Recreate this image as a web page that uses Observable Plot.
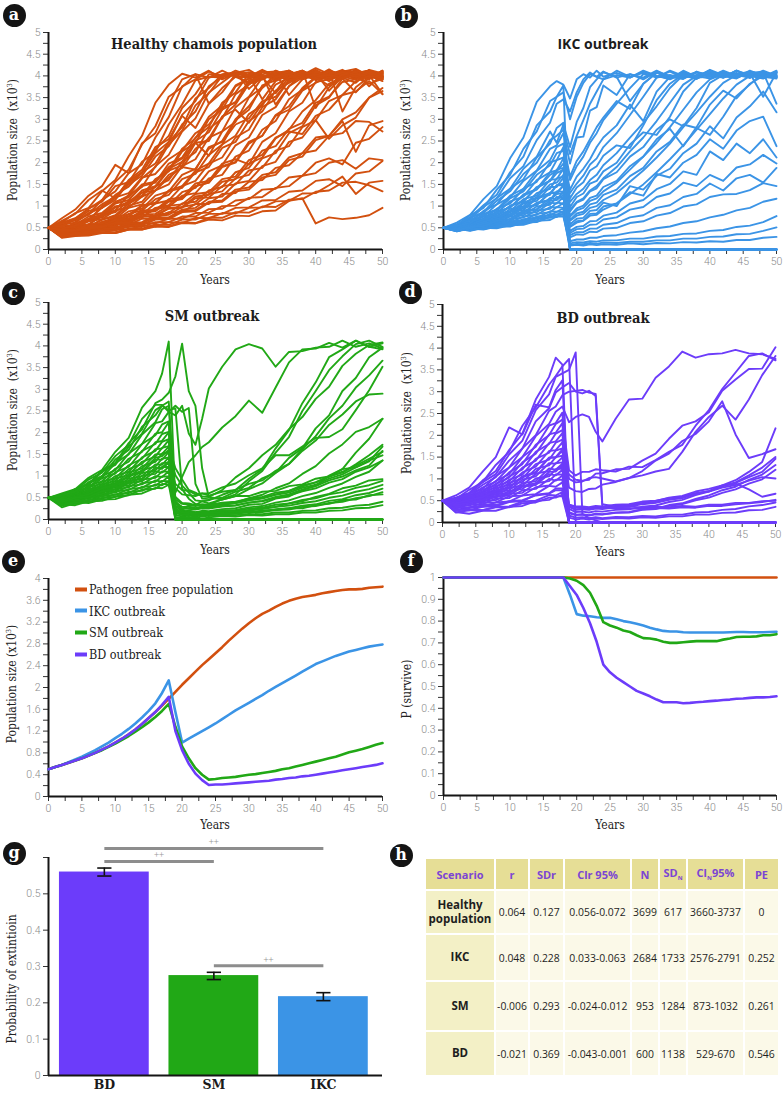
<!DOCTYPE html>
<html><head><meta charset="utf-8">
<script src="https://cdn.jsdelivr.net/npm/d3@7"></script>
<script src="https://cdn.jsdelivr.net/npm/@observablehq/plot@0.6"></script>
<style>
body{margin:0;background:#fff;}
#root{position:relative;width:784px;height:1093px;overflow:hidden;font-family:"DejaVu Serif",serif;}
.panel{position:absolute;}
.badge{position:absolute;width:23px;height:23px;margin:-11.5px 0 0 -11.5px;border-radius:50%;background:#141414;color:#fff;font:bold 16px "DejaVu Serif",serif;text-align:center;line-height:21px;}
.title{position:absolute;transform:translate(-50%,-50%);font-weight:bold;white-space:nowrap;font-size:14.5px;font-stretch:condensed;color:#1c1c1c;}
.title.sans{font-family:"Open Sans",sans-serif;font-size:14px;font-stretch:normal;}
.ylab{position:absolute;transform:translate(-50%,-50%) rotate(-90deg);white-space:nowrap;font-size:12px;font-stretch:condensed;color:#222;}
.xlab{position:absolute;transform:translate(-50%,-50%);white-space:nowrap;font-size:12px;font-stretch:condensed;color:#222;}
.leg{position:absolute;font-size:12.5px;font-stretch:condensed;color:#222;white-space:nowrap;transform:translateY(-50%);}
.leg i{display:inline-block;width:12px;height:4px;vertical-align:middle;margin-right:2px;margin-top:-2px;}
#tbl{position:absolute;left:424px;top:857px;width:354px;height:218px;border-collapse:collapse;table-layout:fixed;font-family:"Open Sans",sans-serif;font-size:10.4px;color:#1e1e1e;}
#tbl td,#tbl th{border:2px solid #fff;padding:0;text-align:center;white-space:nowrap;background:#fbf9e8;}
#tbl th{background:#e6de96;color:#7b45d3;font-weight:bold;font-size:11px;}
#tbl td.sc{background:#f3f0c6;font-weight:bold;font-size:11.5px;white-space:normal;line-height:1.25;}
#tbl sub{font-size:6px;}
</style>
</head><body><div id="root"></div>
<script>
// ---------- data ----------
const yearsA = [0,2,4,6,8,10,12,14,16,18,20,22,24,26,28,30,32,34,36,38,40,42,44,46,48,50];
const yearsO = [0,2,4,6,8,10,12,14,16,17,18,19,20,21,22,23,24,26,28,30,32,34,36,38,40,42,44,46,48,50];

// population size in tens of individuals (divide by 100 for x10^3)
const healthyRuns = [
[50,62,84,96,134,160,215,262,338,380,405,396,412,392,406,398,414,400,394,410,398,415,396,406,412,400],
[50,72,92,124,146,195,176,245,268,335,392,404,396,412,398,385,408,410,392,402,418,404,398,412,393,407],
[50,42,63,82,114,134,176,196,258,305,376,392,410,398,407,414,396,404,412,394,406,398,410,416,400,402],
[50,62,72,94,110,146,155,202,224,288,334,390,398,396,412,402,401,392,410,400,396,412,404,398,414,406],
[50,33,58,66,100,118,158,178,222,248,310,342,396,402,400,398,412,398,396,403,414,398,400,404,412,393],
[50,57,67,89,96,126,145,178,198,248,282,348,372,404,408,370,398,403,401,412,396,406,398,392,410,398],
[50,38,52,56,80,90,126,144,192,218,272,302,362,385,408,398,393,412,400,396,407,402,412,402,394,412],
[50,66,82,114,136,118,160,184,236,254,308,280,336,362,404,408,402,392,407,398,412,396,404,410,398,392],
[50,46,52,69,76,106,114,146,154,198,212,258,282,338,362,405,392,407,412,398,400,403,414,398,407,396],
[50,36,48,52,69,76,101,110,146,160,202,224,278,302,358,380,402,393,410,400,392,407,398,412,396,405],
[50,57,62,84,96,120,130,166,174,208,228,268,288,328,338,382,392,412,398,407,390,402,410,394,412,400],
[50,28,43,47,64,71,96,104,136,150,192,208,258,272,328,352,396,402,400,406,402,392,407,412,398,393],
[50,44,50,66,74,97,110,131,144,182,194,246,250,306,322,292,336,364,404,402,397,412,398,407,396,410],
[50,33,40,43,58,62,82,90,116,126,162,174,218,242,298,322,378,390,408,396,412,398,393,407,412,398],
[50,50,57,76,84,110,120,150,156,190,210,246,216,272,294,350,374,404,388,407,398,410,396,412,400,394],
[50,41,43,53,55,72,76,100,108,136,146,182,198,242,262,312,332,380,396,408,392,412,400,396,408,398],
[50,54,56,69,77,99,104,131,136,166,190,184,236,248,288,302,342,352,390,396,407,396,412,400,393,407],
[50,30,38,40,53,57,76,81,106,113,146,158,198,212,258,276,328,346,390,396,400,402,412,398,407,396],
[50,40,40,51,52,66,66,85,88,110,116,146,154,192,202,248,262,308,322,366,384,402,393,407,396,402],
[50,46,48,58,57,72,71,90,91,116,120,152,158,198,208,196,248,268,318,338,386,392,404,396,382,393],
[50,29,36,36,46,48,61,63,79,84,106,110,136,144,178,188,228,238,278,292,338,352,386,392,402,388],
[50,44,44,53,54,66,65,80,82,101,104,128,132,162,168,206,218,258,272,266,308,322,356,364,388,358],
[50,35,42,42,50,50,61,61,74,74,92,96,118,122,152,158,192,202,248,258,298,255,286,304,350,365],
[50,33,40,38,47,46,58,57,71,72,89,91,110,113,138,143,172,178,212,222,258,262,296,225,286,296],
[50,42,40,48,48,58,57,71,72,86,86,105,105,128,130,156,160,188,194,222,228,262,268,296,294,272],
[50,30,37,36,44,44,53,52,63,63,76,76,93,94,113,116,138,140,166,170,200,210,196,246,255,282],
[50,39,38,44,44,52,52,61,60,71,71,84,85,100,101,119,121,142,146,170,176,200,206,186,210,206],
[50,29,33,34,40,40,48,48,58,57,69,69,82,82,96,97,113,114,133,136,158,162,146,175,180,204],
[50,36,34,40,38,46,46,55,53,63,61,73,72,84,83,96,97,111,112,129,130,148,168,128,154,158],
[50,31,35,35,40,38,46,46,55,53,63,61,73,73,86,85,99,98,115,116,133,136,154,156,148,134],
[50,27,31,32,38,38,46,46,53,52,61,60,69,67,78,77,88,90,112,118,60,74,70,73,79,96],
[50,60,70,94,114,156,184,242,284,352,374,404,336,372,398,396,402,334,376,404,408,393,407,396,412,398],
[50,44,61,69,96,114,154,176,230,262,326,358,404,402,402,408,396,406,356,392,402,404,408,396,400,410],
[50,45,54,71,81,108,124,164,190,242,274,332,360,400,406,402,346,388,402,403,392,412,318,374,398,407],
[50,34,47,52,69,79,106,122,160,182,232,256,306,332,378,394,408,398,412,393,407,366,398,408,402,358],
[50,50,52,65,70,90,97,122,136,172,188,232,256,306,334,382,396,398,402,412,326,374,398,407,396,412],
[50,54,70,80,104,122,150,170,214,238,288,318,376,398,404,380,402,396,410,398,404,388,406,410,398,404],
[50,40,56,58,78,86,112,124,162,180,226,246,300,322,376,394,410,396,404,412,398,402,396,412,404,398],
[50,48,55,70,76,98,106,136,146,186,202,250,270,322,340,390,398,360,396,408,400,392,410,402,396,408],
[50,35,45,48,62,67,88,94,124,134,172,186,232,250,300,330,372,398,404,392,408,402,396,384,410,400],
[50,44,47,58,60,76,80,102,106,134,142,178,190,234,248,296,318,366,384,400,396,410,402,398,406,392],
[50,31,40,41,51,54,70,74,96,102,132,142,180,194,240,258,310,328,376,396,404,396,408,400,394,410],
[50,47,45,56,55,68,69,88,90,112,118,146,154,190,200,244,262,310,330,372,398,402,396,410,376,404],
[50,38,43,46,55,58,72,75,94,98,124,130,164,172,214,228,276,296,346,368,396,378,404,398,410,396],
[50,42,42,50,50,60,61,76,77,96,98,122,126,156,162,198,212,256,276,318,344,382,396,404,398,400],
[50,34,38,40,47,49,60,62,77,80,98,104,128,134,164,172,210,222,268,284,332,350,394,362,396,404],
[50,45,44,52,52,62,62,76,78,94,96,118,120,146,150,182,188,228,238,282,298,342,356,388,400,396],
[50,30,36,37,44,45,55,56,69,70,86,88,108,110,134,138,166,172,206,214,252,262,300,316,350,372]
];

const ikcRuns = [
[50,62,80,116,146,210,258,340,376,388,380,348,392,404,396,412,398,407,396,412,400,394,410,398,414,402,396,412,400,406],
[50,56,79,96,138,172,232,272,342,352,378,0,0,0,0,0,0,0,0,0,0,0,0,0,0,0,0,0,0,0],
[50,58,70,98,118,164,192,252,292,336,346,318,362,392,408,398,392,412,398,407,396,412,400,394,407,398,412,396,406,398],
[50,53,73,86,119,140,186,214,272,246,288,236,294,326,374,392,408,398,342,382,407,398,393,410,400,396,412,402,398,394],
[50,56,63,89,104,140,162,212,244,280,292,0,0,0,0,0,0,0,0,0,0,0,0,0,0,0,0,0,0,0],
[50,50,67,76,104,120,158,182,232,240,268,198,258,260,320,328,378,356,404,396,412,398,407,393,412,400,396,407,398,412],
[50,55,59,82,92,124,140,181,206,236,244,168,204,226,254,282,304,342,324,382,408,393,412,398,407,396,412,400,394,407],
[50,48,63,70,94,106,140,156,201,206,236,0,0,0,0,0,0,0,0,0,0,0,0,0,0,0,0,0,0,0],
[50,53,57,76,84,111,122,160,178,206,212,138,168,186,208,236,258,286,334,296,364,398,400,408,402,403,398,406,352,408],
[50,47,61,66,88,96,127,139,178,182,210,118,143,155,182,192,216,240,234,286,344,382,404,394,412,398,407,396,412,400],
[50,51,54,72,76,101,110,144,158,184,188,0,0,0,0,0,0,0,0,0,0,0,0,0,0,0,0,0,0,0],
[50,46,59,62,82,88,116,124,161,162,186,98,121,129,152,158,180,200,242,270,264,306,364,396,398,406,402,408,406,396],
[50,50,52,67,72,93,99,130,140,164,168,88,108,115,134,141,162,178,214,236,276,300,284,326,384,402,398,408,404,398],
[50,45,57,59,76,80,106,112,144,144,166,0,0,0,0,0,0,0,0,0,0,0,0,0,0,0,0,0,0,0],
[50,49,50,64,67,87,91,118,126,148,148,78,95,101,119,124,144,158,192,214,254,278,238,282,334,366,348,382,400,403],
[50,44,55,57,71,76,97,102,131,128,148,68,83,87,104,108,126,138,169,188,226,248,288,280,264,306,354,380,408,336],
[50,48,49,61,63,82,84,108,114,134,133,0,0,0,0,0,0,0,0,0,0,0,0,0,0,0,0,0,0,0],
[50,43,53,54,67,70,90,93,119,115,134,58,71,73,89,91,108,100,146,138,170,186,222,244,284,256,304,330,364,316],
[50,47,48,59,61,76,79,99,103,121,119,53,65,67,82,83,99,106,132,124,174,166,200,218,254,232,274,296,306,238],
[50,43,51,53,64,66,83,86,108,106,121,0,0,0,0,0,0,0,0,0,0,0,0,0,0,0,0,0,0,0],
[50,46,46,56,58,70,74,90,94,108,106,43,52,54,65,66,78,85,106,114,139,151,180,172,226,206,244,222,254,212],
[50,42,50,50,60,62,76,80,98,97,107,38,47,48,57,58,69,74,92,98,121,129,154,146,172,158,189,196,218,198],
[50,46,45,53,55,65,67,82,86,98,96,0,0,0,0,0,0,0,0,0,0,0,0,0,0,0,0,0,0,0],
[50,43,49,48,57,58,70,73,88,87,95,33,40,40,48,48,57,61,74,79,96,102,121,128,152,136,164,172,154,188],
[50,46,44,52,52,62,64,76,78,87,87,28,35,34,41,40,48,50,61,65,78,84,99,104,121,127,128,137,153,146],
[50,43,48,47,55,56,66,68,82,80,88,19,23,23,27,27,31,33,39,42,49,53,61,65,74,80,90,96,110,117],
[50,48,43,50,50,59,60,72,73,81,81,14,17,16,19,18,21,21,25,25,30,31,36,37,43,45,52,55,63,77],
[50,43,48,46,53,53,62,63,76,75,83,11,13,12,15,13,16,15,18,18,21,21,25,25,29,30,35,36,43,51],
[50,48,44,50,49,56,57,66,68,76,76,9,11,9,12,10,12,11,14,12,15,14,17,16,19,18,22,22,27,29],
[50,42,48,47,54,54,63,65,76,76,82,0,0,0,0,0,0,0,0,0,0,0,0,0,0,0,0,0,0,0],
[50,58,74,102,126,178,214,286,318,352,362,300,352,384,404,398,410,396,404,392,410,400,396,408,398,412,400,404,396,408],
[50,52,68,84,112,134,174,200,252,262,276,220,262,298,336,364,392,402,396,410,400,392,406,398,412,396,404,410,398,402],
[50,54,61,80,90,118,134,172,194,222,228,160,192,214,246,268,298,336,372,404,398,410,396,402,408,400,394,410,402,396],
[50,49,58,68,84,98,124,138,172,180,198,130,152,170,196,210,236,268,310,352,396,402,394,408,400,410,398,404,396,410],
[50,51,55,70,78,100,112,142,158,176,184,110,128,140,160,172,194,222,258,292,330,372,402,396,410,400,404,396,410,398],
[50,47,56,62,76,86,108,120,150,154,172,92,110,118,136,146,164,190,226,258,296,338,380,400,394,408,398,410,402,396],
[50,49,52,64,70,88,96,120,130,148,152,76,90,96,112,118,134,154,184,214,246,282,322,362,392,404,398,406,410,400],
[50,45,54,58,70,78,96,104,130,132,146,66,78,82,96,100,114,130,156,182,212,244,282,316,352,384,402,396,408,400],
[50,48,49,60,64,80,86,106,114,128,130,52,62,66,78,80,92,106,128,150,178,208,240,276,312,348,380,400,396,410],
[50,44,52,54,66,70,86,92,112,114,126,0,0,0,0,0,0,0,0,0,0,0,0,0,0,0,0,0,0,0]
];

const smRuns = [
[50,60,70,96,114,156,188,258,296,336,410,40,22,14,13,11,14,14,18,16,21,22,26,26,33,36,45,46,56,58],
[50,53,70,82,112,130,176,208,268,276,292,330,405,296,262,118,52,46,54,54,64,66,77,81,94,99,116,120,136,148],
[50,58,67,92,108,146,172,232,264,264,248,240,262,198,172,232,302,352,392,404,394,352,386,388,396,398,412,398,406,394],
[50,52,70,80,110,126,168,198,252,262,272,42,24,32,33,42,44,57,68,94,116,164,206,268,316,374,392,412,398,392],
[50,55,61,84,96,130,150,196,224,254,262,22,14,21,24,31,34,47,58,88,112,154,190,250,296,344,376,404,412,398],
[50,49,65,74,100,114,152,174,222,226,248,262,248,257,82,48,47,50,64,73,95,108,142,164,210,240,296,326,374,396],
[50,53,57,78,88,117,133,174,194,219,226,32,19,19,17,20,19,24,26,34,36,48,53,68,78,101,116,154,186,232],
[50,48,64,72,95,106,140,156,198,201,224,0,0,0,0,0,0,0,0,0,0,0,0,0,0,0,0,0,0,0],
[50,52,55,75,82,109,121,158,174,197,202,62,98,132,148,167,178,212,238,274,246,304,362,392,394,407,396,412,398,406],
[50,46,60,66,87,95,125,140,178,181,201,16,11,9,12,11,14,14,19,20,26,29,37,42,52,59,72,78,90,93],
[50,51,53,70,77,100,110,143,158,179,185,0,0,0,0,0,0,0,0,0,0,0,0,0,0,0,0,0,0,0],
[50,45,58,62,81,89,116,128,162,164,183,26,14,15,13,16,15,19,20,25,27,34,37,45,49,58,63,73,79,89],
[50,50,51,67,73,94,103,133,145,165,169,118,92,68,62,53,52,68,97,118,148,172,208,236,278,306,354,382,402,408],
[50,44,56,59,77,83,108,118,150,151,168,0,0,0,0,0,0,0,0,0,0,0,0,0,0,0,0,0,0,0],
[50,49,49,64,69,88,96,123,133,152,155,31,19,19,16,18,17,21,22,28,31,39,44,54,61,73,83,98,110,136],
[50,43,55,57,73,78,100,108,138,138,155,102,78,62,44,42,37,46,54,70,83,107,128,162,192,233,262,304,332,366],
[50,48,48,62,65,84,89,114,122,140,143,0,0,0,0,0,0,0,0,0,0,0,0,0,0,0,0,0,0,0],
[50,42,53,55,70,74,94,100,127,126,143,21,11,11,9,11,10,13,13,17,17,22,23,29,31,38,41,49,54,63],
[50,47,47,60,62,80,84,107,113,130,131,82,68,66,58,60,55,64,68,82,90,112,128,158,182,218,242,272,288,290],
[50,41,52,53,67,70,89,94,119,117,131,11,7,9,7,10,8,11,10,13,12,16,16,20,21,26,27,32,34,41],
[50,46,45,58,60,76,79,101,105,121,121,0,0,0,0,0,0,0,0,0,0,0,0,0,0,0,0,0,0,0],
[50,38,48,50,64,66,84,88,111,108,121,41,29,29,26,29,29,35,39,49,57,72,83,105,123,152,173,202,213,232],
[50,40,43,55,56,70,74,92,96,111,110,72,58,56,54,60,60,74,83,102,118,148,148,168,188,190,208,252,298,352],
[50,34,46,48,59,62,77,81,100,98,111,6,4,6,4,7,5,8,7,10,9,12,12,16,16,20,21,26,27,33],
[50,37,40,50,53,65,68,84,87,99,99,0,0,0,0,0,0,0,0,0,0,0,0,0,0,0,0,0,0,0],
[50,32,42,44,54,57,70,73,90,87,99,52,38,37,33,35,34,39,41,48,52,62,66,79,85,100,108,127,148,172],
[50,34,36,46,48,58,61,75,78,89,88,36,29,29,26,28,27,31,33,39,42,50,55,65,72,85,93,110,120,136],
[50,28,38,40,50,52,64,66,81,79,88,16,11,12,10,12,11,14,14,18,19,24,26,32,35,43,47,56,61,71],
[50,35,33,42,43,53,56,69,71,82,81,0,0,0,0,0,0,0,0,0,0,0,0,0,0,0,0,0,0,0],
[50,34,40,38,46,47,57,60,73,72,80,31,24,25,23,26,25,30,32,39,43,52,58,69,77,90,99,113,124,158],
[50,56,64,86,100,138,160,214,240,262,252,256,70,48,36,32,30,34,38,44,50,58,66,76,86,98,110,124,140,156],
[50,44,52,58,72,80,102,112,142,146,160,24,16,15,14,15,15,17,18,22,24,29,32,38,42,50,55,64,70,80],
[50,40,50,52,65,70,88,94,118,120,134,46,36,34,31,33,32,36,38,45,48,57,62,73,80,94,104,120,134,168]
];

const bdRuns = [
[50,57,68,96,118,166,204,282,334,378,362,0,0,0,0,0,0,0,0,0,0,0,0,0,0,0,0,0,0,0],
[50,54,75,92,132,162,222,264,316,336,358,375,0,0,0,0,0,0,0,0,0,0,0,0,0,0,0,0,0,0],
[50,56,66,92,111,156,188,258,294,334,342,350,390,20,10,5,0,0,0,0,0,0,0,0,0,0,0,0,0,0],
[50,62,80,116,150,218,202,270,264,304,326,0,0,0,0,0,0,0,0,0,0,0,0,0,0,0,0,0,0,0],
[50,50,67,77,106,126,170,200,256,266,292,300,302,304,298,295,42,36,37,34,36,35,38,36,41,41,45,45,49,50],
[50,53,60,80,94,126,150,198,226,254,266,230,242,248,242,208,186,238,282,284,332,358,392,378,386,388,396,388,386,375],
[50,48,62,71,95,111,150,174,222,228,252,0,0,0,0,0,0,0,0,0,0,0,0,0,0,0,0,0,0,0],
[50,52,57,75,86,115,134,178,200,226,236,120,108,116,116,122,120,117,128,127,143,162,178,222,258,306,344,382,388,372],
[50,47,60,67,89,103,138,158,202,206,228,0,0,0,0,0,0,0,0,0,0,0,0,0,0,0,0,0,0,0],
[50,50,54,71,80,106,122,162,180,204,212,100,92,94,102,104,101,94,102,108,117,123,162,208,242,268,236,282,338,382],
[50,46,57,63,83,94,126,142,182,186,205,0,0,0,0,0,0,0,0,0,0,0,0,0,0,0,0,0,0,0],
[50,49,52,67,74,98,110,146,160,183,190,0,0,0,0,0,0,0,0,0,0,0,0,0,0,0,0,0,0,0],
[50,44,55,59,78,87,115,128,164,166,184,80,72,70,77,78,87,93,102,118,142,158,187,203,232,278,202,148,157,168],
[50,48,50,63,69,91,101,134,144,165,170,0,0,0,0,0,0,0,0,0,0,0,0,0,0,0,0,0,0,0],
[50,43,53,56,73,80,106,116,149,149,165,41,34,34,32,35,34,38,39,44,46,53,57,66,72,83,91,104,116,146],
[50,46,48,61,65,85,93,123,131,150,153,0,0,0,0,0,0,0,0,0,0,0,0,0,0,0,0,0,0,0],
[50,42,51,53,69,74,98,106,136,135,149,110,98,96,98,112,113,122,123,142,158,192,222,232,253,302,328,352,353,402],
[50,45,46,58,61,79,85,112,118,136,138,0,0,0,0,0,0,0,0,0,0,0,0,0,0,0,0,0,0,0],
[50,40,49,51,65,68,90,95,124,121,135,31,24,25,23,26,25,29,30,36,39,47,52,63,71,85,97,116,139,216],
[50,42,43,55,57,72,77,101,106,122,124,0,0,0,0,0,0,0,0,0,0,0,0,0,0,0,0,0,0,0],
[50,36,45,47,60,62,82,86,111,108,121,21,17,18,16,19,18,22,23,29,31,38,42,51,57,68,76,89,99,121],
[50,38,39,50,51,66,68,90,95,110,110,0,0,0,0,0,0,0,0,0,0,0,0,0,0,0,0,0,0,0],
[50,32,41,42,55,56,74,77,100,96,108,41,37,37,35,38,37,41,42,48,50,56,59,67,71,80,86,96,104,101],
[50,34,34,45,46,60,62,81,85,98,98,0,0,0,0,0,0,0,0,0,0,0,0,0,0,0,0,0,0,0],
[50,28,35,36,46,48,62,65,84,82,92,16,11,12,10,12,10,13,12,15,14,18,18,23,24,29,31,37,40,46],
[50,30,28,36,37,47,49,64,67,78,78,0,0,0,0,0,0,0,0,0,0,0,0,0,0,0,0,0,0,0],
[50,23,28,28,36,37,48,50,63,62,70,11,7,9,7,9,8,10,9,12,11,14,14,18,18,22,23,28,29,36],
[50,24,20,27,27,36,38,49,52,60,60,0,0,0,0,0,0,0,0,0,0,0,0,0,0,0,0,0,0,0],
[50,28,30,28,35,35,44,46,57,57,64,36,29,31,30,33,33,37,39,45,49,57,61,71,77,85,89,76,59,66],
[50,37,33,40,40,49,51,62,66,74,74,0,0,0,0,0,0,0,0,0,0,0,0,0,0,0,0,0,0,0],
[50,55,64,86,104,142,170,232,262,298,310,320,300,296,302,290,36,32,33,31,33,32,35,34,38,38,42,44,47,52],
[50,44,52,58,72,80,104,114,148,150,168,38,30,31,29,32,31,35,36,42,45,52,56,66,72,84,92,108,126,150],
[50,40,45,52,60,67,84,90,116,117,132,24,18,19,17,20,19,23,24,30,32,40,44,54,62,74,82,98,110,132]
];

// panel e: mean population size (x10^3), one value per year 0..50
const meanFree = [0.50,0.54,0.58,0.62,0.66,0.70,0.75,0.80,0.86,0.92,0.99,1.06,1.14,1.23,1.33,1.44,1.55,1.67,1.79,1.92,2.05,2.17,2.29,2.41,2.52,2.63,2.74,2.86,2.97,3.08,3.18,3.27,3.35,3.41,3.48,3.54,3.59,3.63,3.66,3.68,3.70,3.73,3.75,3.77,3.79,3.80,3.80,3.81,3.83,3.84,3.85];
const meanIKC = [0.50,0.54,0.58,0.63,0.68,0.73,0.79,0.85,0.92,0.99,1.07,1.15,1.24,1.34,1.45,1.57,1.71,1.90,2.13,1.55,0.99,1.06,1.13,1.20,1.27,1.34,1.42,1.50,1.58,1.65,1.72,1.79,1.86,1.94,2.01,2.08,2.15,2.22,2.29,2.36,2.43,2.48,2.53,2.58,2.62,2.66,2.69,2.72,2.75,2.77,2.79];
const meanSM = [0.50,0.54,0.58,0.62,0.66,0.70,0.75,0.80,0.85,0.91,0.97,1.04,1.11,1.19,1.27,1.36,1.46,1.57,1.70,1.28,0.92,0.70,0.52,0.40,0.31,0.32,0.34,0.35,0.36,0.38,0.40,0.41,0.43,0.45,0.47,0.50,0.52,0.55,0.58,0.61,0.64,0.67,0.70,0.73,0.77,0.81,0.84,0.87,0.91,0.95,0.98];
const meanBD = [0.50,0.54,0.58,0.62,0.66,0.70,0.75,0.80,0.86,0.92,0.99,1.06,1.14,1.23,1.33,1.44,1.55,1.68,1.83,1.20,0.85,0.60,0.42,0.30,0.21,0.22,0.22,0.23,0.24,0.25,0.26,0.27,0.28,0.29,0.31,0.32,0.34,0.35,0.37,0.38,0.40,0.42,0.44,0.46,0.48,0.50,0.52,0.54,0.56,0.58,0.61];

// panel f: probability of survival, one value per year 0..50
const survFree = [1,1,1,1,1,1,1,1,1,1,1,1,1,1,1,1,1,1,1,1,1,1,1,1,1,1,1,1,1,1,1,1,1,1,1,1,1,1,1,1,1,1,1,1,1,1,1,1,1,1,1];
const survIKC = [1,1,1,1,1,1,1,1,1,1,1,1,1,1,1,1,1,1,1,0.92,0.832,0.825,0.822,0.818,0.815,0.815,0.808,0.80,0.795,0.788,0.78,0.77,0.762,0.755,0.752,0.752,0.749,0.748,0.748,0.748,0.748,0.748,0.748,0.749,0.75,0.75,0.749,0.749,0.749,0.75,0.751];
const survSM = [1,1,1,1,1,1,1,1,1,1,1,1,1,1,1,1,1,1,1,0.995,0.985,0.965,0.93,0.87,0.795,0.78,0.77,0.757,0.75,0.735,0.722,0.72,0.715,0.705,0.70,0.70,0.703,0.706,0.708,0.708,0.708,0.708,0.715,0.72,0.727,0.728,0.728,0.73,0.735,0.735,0.74];
const survBD = [1,1,1,1,1,1,1,1,1,1,1,1,1,1,1,1,1,1,1,0.96,0.92,0.86,0.79,0.705,0.60,0.565,0.54,0.52,0.50,0.48,0.468,0.455,0.44,0.428,0.428,0.428,0.423,0.425,0.428,0.43,0.433,0.435,0.438,0.44,0.444,0.445,0.448,0.45,0.45,0.452,0.455];

const seriesNames = ["Pathogen free population","IKC outbreak","SM outbreak","BD outbreak"];

// panel g
const extCats = ["BD","SM","IKC"];
const extProb = [0.560,0.275,0.217];
const extLo = [0.549,0.264,0.206];
const extHi = [0.571,0.284,0.228];
const sigPairs = [["BD","IKC","++"],["BD","SM","++"],["SM","IKC","++"]];
const sigTier = [1,0,0];

// panel h
const tblHeaders = ["Scenario","r","SDr","Clr 95%","N","SD<sub>N</sub>","Cl<sub>N</sub>95%","PE"];
const tblScenario = ["Healthy population","IKC","SM","BD"];
const tblR = ["0.064","0.048","-0.006","-0.021"];
const tblSDr = ["0.127","0.228","0.293","0.369"];
const tblCIr = ["0.056-0.072","0.033-0.063","-0.024-0.012","-0.043-0.001"];
const tblN = ["3699","2684","953","600"];
const tblSDN = ["617","1733","1284","1138"];
const tblCIN = ["3660-3737","2576-2791","873-1032","529-670"];
const tblPE = ["0","0.252","0.261","0.546"];

// ---------- styling ----------
const C = {free:"#d2500f", ikc:"#3b94e6", sm:"#21a816", bd:"#6c3cfa"};
const root = document.getElementById("root");
const tickGray = "#8a8a8a";
const fmt = d => String(+d.toFixed(2));

function mount(left, top, width, height, opts) {
  const div = document.createElement("div");
  div.className = "panel";
  div.style.left = left + "px"; div.style.top = top + "px"; div.style.width = width + "px"; div.style.height = height + "px";
  const svg = Plot.plot(Object.assign({width, height,
    style:{background:"transparent", fontFamily:"Roboto, sans-serif", fontWeight:300, overflow:"visible"}}, opts));
  div.appendChild(svg);
  root.appendChild(div);
}

function frame(xMinor, xMajor, yMinor, yMajor, yFmt) {
  return [
    Plot.axisX({ticks:xMinor, tickSize:5, tickFormat:()=>"", stroke:"#333", label:null}),
    Plot.axisX({ticks:xMajor, tickSize:0, tickPadding:8, tickFormat:fmt, fill:tickGray, fontSize:10.5, label:null}),
    Plot.axisY({ticks:yMinor, tickSize:5, tickFormat:()=>"", stroke:"#333", label:null}),
    Plot.axisY({ticks:yMajor, tickSize:0, tickPadding:8, tickFormat:yFmt||fmt, fill:tickGray, fontSize:10.5, label:null}),
    Plot.ruleX([0], {stroke:"#151515", strokeWidth:2}),
    Plot.ruleY([0], {stroke:"#151515", strokeWidth:2})
  ];
}
const xMinor = d3.range(0, 50.1, 2.5), xMajor = d3.range(0, 50.1, 5);

function runsRows(runs, years) {
  return runs.flatMap((vals, r) => vals.map((v, i) => ({run:r, year:years[i], pop:v/100}))).filter(d => d.year !== undefined);
}

function spaghetti(left, top, height, ml, mr, runs, years, color) {
  mount(left, top, 392, height, {
    marginLeft:ml, marginRight:mr, marginTop:32, marginBottom:26,
    x:{domain:[0,50], label:null}, y:{domain:[0,5], label:null},
    marks:[
      ...frame(xMinor, xMajor, d3.range(0,5.01,0.25), d3.range(0,5.01,0.5)),
      Plot.line(runsRows(runs, years), {x:"year", y:"pop", z:"run", stroke:color, strokeWidth:1.9})
    ]
  });
}

spaghetti(0, 0, 275, 48, 10, healthyRuns, yearsA, C.free);
spaghetti(392, 0, 275, 51, 8, ikcRuns, yearsO, C.ikc);
spaghetti(0, 270, 275, 48, 10, smRuns, yearsO, C.sm);
spaghetti(392, 272, 276, 50, 9, bdRuns, yearsO, C.bd);

// panel e
const yearsAll = d3.range(0, 51);
function seriesRows(list) {
  return list.flatMap((vals, s) => vals.map((v, i) => ({s, year:yearsAll[i], v})));
}
const colorsList = [C.free, C.ikc, C.sm, C.bd];
mount(0, 546, 392, 276, {
  marginLeft:48, marginRight:10, marginTop:32, marginBottom:26,
  x:{domain:[0,50], label:null}, y:{domain:[0,4], label:null},
  marks:[
    ...frame(xMinor, xMajor, d3.range(0,4.01,0.2).map(v=>+v.toFixed(1)), d3.range(0,4.01,0.4).map(v=>+v.toFixed(1))),
    Plot.line(seriesRows([meanFree, meanIKC, meanSM, meanBD]), {x:"year", y:"v", z:"s", stroke:d=>colorsList[d.s], strokeWidth:2.6})
  ]
});

// panel f
mount(392, 545, 392, 276, {
  marginLeft:51, marginRight:8, marginTop:32, marginBottom:26,
  x:{domain:[0,50], label:null}, y:{domain:[0,1], label:null},
  marks:[
    ...frame(xMinor, xMajor, d3.range(0,1.001,0.05).map(v=>+v.toFixed(2)), d3.range(0,1.001,0.1).map(v=>+v.toFixed(1))),
    Plot.line(seriesRows([survFree, survIKC, survSM, survBD]), {x:"year", y:"v", z:"s", stroke:d=>colorsList[d.s], strokeWidth:2.6})
  ]
});

// panel g
const gData = extCats.map((c, i) => ({cat:c, i, p:extProb[i], lo:extLo[i], hi:extHi[i], color:[C.bd, C.sm, C.ikc][i]}));
const sigData = sigPairs.map(([a, b, t], k) => {
  const ia = extCats.indexOf(a), ib = extCats.indexOf(b);
  const level = Math.max(extHi[ia], extHi[ib]) + 0.018 + 0.036 * sigTier[k];
  return {ia, ib, mid:(ia + ib) / 2, level, t};
});
const capHalf = 0.065, barHalf = 0.41;
mount(0, 830, 392, 263, {
  marginLeft:48, marginRight:10, marginTop:27, marginBottom:18,
  x:{domain:[-0.51, 2.54], label:null}, y:{domain:[0,0.6], label:null},
  color:{type:"identity"},
  marks:[
    Plot.axisY({ticks:d3.range(0,0.61,0.1).map(v=>+v.toFixed(1)), tickSize:5, tickPadding:3, stroke:"#333", fill:tickGray, fontSize:10.5,
      tickFormat:d => d >= 0.6 ? "" : fmt(d), label:null}),
    Plot.axisX({ticks:[0,1,2], tickSize:0, tickPadding:5, tickFormat:i => extCats[i], fill:"#1a1a1a", fontSize:12.5, fontWeight:"bold", fontFamily:"DejaVu Serif, serif", label:null}),
    Plot.rectY(gData, {x1:d => d.i - barHalf, x2:d => d.i + barHalf, y1:0, y2:"p", fill:"color"}),
    Plot.ruleX(gData, {x:"i", y1:"lo", y2:"hi", stroke:"#111", strokeWidth:1.6}),
    Plot.link(gData, {x1:d => d.i - capHalf, x2:d => d.i + capHalf, y1:"lo", y2:"lo", stroke:"#111", strokeWidth:1.6}),
    Plot.link(gData, {x1:d => d.i - capHalf, x2:d => d.i + capHalf, y1:"hi", y2:"hi", stroke:"#111", strokeWidth:1.6}),
    Plot.link(sigData, {x1:"ia", x2:"ib", y1:"level", y2:"level", stroke:"#8d8d8d", strokeWidth:3}),
    Plot.text(sigData, {x:"mid", y:"level", text:"t", dy:-6, fill:"#9a9a9a", fontSize:9}),
    Plot.ruleX([-0.51], {y1:0, y2:0.6, stroke:"#151515", strokeWidth:2}),
    Plot.ruleY([0], {stroke:"#151515", strokeWidth:2})
  ]
});

// ---------- overlays ----------
function addEl(cls, html, x, y) {
  const el = document.createElement("div");
  el.className = cls; el.innerHTML = html;
  el.style.left = x + "px"; el.style.top = y + "px";
  root.appendChild(el);
  return el;
}
[["a",14,15],["b",406,16],["c",13,293],["d",410,292],["e",13,561],["f",411,561],["g",14,853],["h",401,855]]
  .forEach(([t,x,y]) => addEl("badge", t, x, y));

addEl("title", "Healthy chamois population", 214, 43);
addEl("title sans", "IKC outbreak", 603, 43);
addEl("title", "SM outbreak", 212, 315);
addEl("title", "BD outbreak", 603, 317);

const ylab = "Population size&nbsp;&nbsp;(x10<sup style='font-size:7px'>3</sup>)";
addEl("ylab", ylab, 13, 140);
addEl("ylab", ylab, 406, 140);
addEl("ylab", ylab, 13, 410);
addEl("ylab", ylab, 407, 413);
addEl("ylab", "Population size (x10<sup style='font-size:7px'>3</sup>)", 12, 684);
addEl("ylab", "P (survive)", 407, 689);
addEl("ylab", "Probability of extintioin", 12, 979);

[[215,280],[610,280],[215,550],[610,552],[215,825],[610,825]].forEach(([x,y]) => addEl("xlab", "Years", x, y));

seriesNames.forEach((n, k) => {
  addEl("leg", `<i style="background:${colorsList[k]}"></i>${n}`, 75, 589 + k * 21.7);
});

// table
const tbl = document.createElement("table");
tbl.id = "tbl";
const widths = [70,34,35,67,28,28,57,35];
const heights = [32,44,47,50,45];
let html = "<colgroup>" + widths.map(w => `<col style="width:${w}px">`).join("") + "</colgroup>";
html += `<tr style="height:${heights[0]}px">` + tblHeaders.map(h => `<th>${h}</th>`).join("") + "</tr>";
tblScenario.forEach((s, i) => {
  html += `<tr style="height:${heights[i+1]}px"><td class="sc">${s}</td><td>${tblR[i]}</td><td>${tblSDr[i]}</td><td>${tblCIr[i]}</td><td>${tblN[i]}</td><td>${tblSDN[i]}</td><td>${tblCIN[i]}</td><td>${tblPE[i]}</td></tr>`;
});
tbl.innerHTML = html;
root.appendChild(tbl);
</script>
</body></html>
